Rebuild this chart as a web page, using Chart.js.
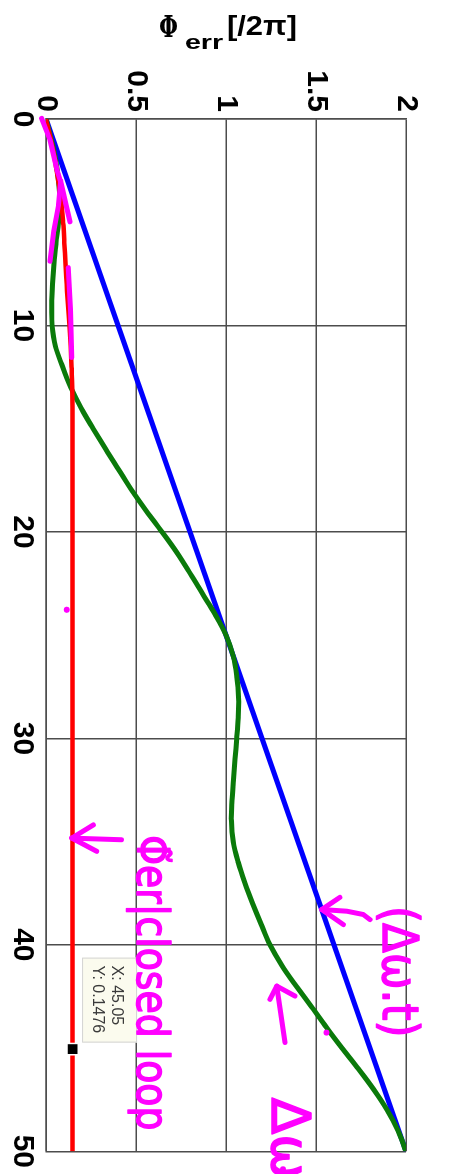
<!DOCTYPE html>
<html>
<head>
<meta charset="utf-8">
<script src="https://cdn.jsdelivr.net/npm/chart.js@4.4.1/dist/chart.umd.min.js"></script>
<style>
  html, body { margin: 0; padding: 0; background: #fff; width: 457px; height: 1174px; overflow: hidden; }
  /* the plot is laid out landscape and turned a quarter turn clockwise */
  #wrap { position: absolute; left: 0; top: 0; width: 1174px; height: 457px;
          transform-origin: 0 0; transform: translate(457px, 0) rotate(90deg); }
  canvas { display: block; }
</style>
</head>
<body>
<div id="wrap"><canvas id="c" width="1174" height="457"></canvas></div>
<script>
// ---- axis ticks ----
const xTickValues = [0, 10, 20, 30, 40, 50];
const xTickLabels = ['0', '10', '20', '30', '40', '50'];
const yTickValues = [0, 0.5, 1, 1.5, 2];
const yTickLabels = ['0', '0.5', '1', '1.5', '2'];

// ---- open-loop phase ramp (Δω·t) ----
const rampT = [0, 50];
const rampPhi = [0, 2];

// ---- Δω response ----
const respT = [0,1,2,3,4,5,6,7,8,9,10,11,12,13,14,15,16,17,18,19,20,21,22,23,24,25,
               26,27,28,29,30,31,32,33,34,35,36,37,38,39,40,41,42,43,44,45,46,47,48,49,50];
const respPhi = [0, 0.03, 0.055, 0.07, 0.076, 0.07, 0.056, 0.044, 0.036, 0.032, 0.034,
                 0.052, 0.092, 0.138, 0.195, 0.262, 0.332, 0.405, 0.478, 0.558, 0.645,
                 0.727, 0.8, 0.87, 0.94, 1.0, 1.04, 1.06, 1.07, 1.068, 1.06, 1.05, 1.042,
                 1.034, 1.03, 1.04, 1.068, 1.105, 1.148, 1.195, 1.245, 1.31, 1.39, 1.475,
                 1.558, 1.645, 1.735, 1.82, 1.895, 1.955, 2.0];

// ---- closed-loop phase error ----
const loopT = [0, 1, 2, 3, 4, 5, 6, 7, 8, 9, 10, 11, 12, 13, 14, 50];
const loopPhi = [0, 0.027, 0.05, 0.068, 0.085, 0.095, 0.102, 0.108, 0.115, 0.122, 0.13,
                 0.137, 0.142, 0.146, 0.1476, 0.1476];

// ---- data tip ----
const tipT = [45.05];
const tipPhi = [0.1476];

// ---- pen marks (t, Φ) ----
const penStem = [[-0.03, -0.024], [1.01, 0.022], [2.46, 0.061], [3.19, 0.087], [4.15, 0.111], [4.98, 0.133]];
const penFork = [[3.0, 0.082], [4.15, 0.07], [5.44, 0.043], [6.89, 0.022]];
const penTrace = [[7.2, 0.124], [9.23, 0.136], [11.55, 0.143]];
const penDots = [[23.77, 0.115], [44.25, 1.559], [50.87, 1.317]];
const arrowLoopShaft = [[34.83, 0.143], [34.91, 0.42]];
const arrowLoopHead = [[34.19, 0.263], [34.83, 0.143], [35.47, 0.282]];
const arrowRampShaft = [[38.29, 1.532], [38.37, 1.671], [38.53, 1.763], [38.78, 1.8]];
const arrowRampHead = [[37.7, 1.633], [38.29, 1.532], [39.02, 1.652]];
const arrowRespShaft = [[42.0, 1.282], [44.73, 1.328]];
const arrowRespHead = [[42.64, 1.244], [42.0, 1.282], [42.48, 1.383]];
const penNotes = [
  { text: '(Δω.t)', t0: 38.12, t1: 44.49, phi: 1.87, size: 50 },
  { text: 'Φ̃er|closed loop', t0: 34.69, t1: 48.99, phi: 0.506, size: 44 },
  { text: 'Δω', t0: 47.39, t1: null, phi: 1.256, size: 54 }
];

const pts = (ts, vs) => ts.map((t, i) => ({ x: t, y: vs[i] }));

function fitText(ctx, text, x, y, w, outline) {
  const m = ctx.measureText(text).width;
  ctx.save();
  ctx.translate(x, y);
  if (w) ctx.scale(w / m, 1);
  ctx.fillText(text, 0, 0);
  if (outline) ctx.strokeText(text, 0, 0);
  ctx.restore();
}

const penPlugin = {
  id: 'pen',
  afterDatasetsDraw(chart) {
    const ctx = chart.ctx, xs = chart.scales.x, ys = chart.scales.y;
    const P = ([t, v]) => [xs.getPixelForValue(t), ys.getPixelForValue(v)];

    // data tip box next to the marker
    const [mx, my] = P([tipT[0], tipPhi[0]]);
    const bx = mx - 91.5, by = my - 64.5, bw = 85, bh = 55;
    ctx.save();
    ctx.fillStyle = '#fbfbee';
    ctx.strokeStyle = '#d4d4d4';
    ctx.lineWidth = 1;
    ctx.fillRect(bx, by, bw, bh);
    ctx.strokeRect(bx + 0.5, by + 0.5, bw - 1, bh - 1);
    ctx.fillStyle = '#3a3a3a';
    ctx.font = '16px "Liberation Sans", Arial, sans-serif';
    ctx.textBaseline = 'alphabetic';
    ctx.textAlign = 'left';
    ctx.fillText('X: ' + tipT[0], bx + 8, by + 25);
    ctx.fillText('Y: ' + tipPhi[0], bx + 8, by + 44);
    ctx.restore();

    // magenta pen strokes
    ctx.save();
    ctx.strokeStyle = '#ff00ff';
    ctx.fillStyle = '#ff00ff';
    ctx.lineWidth = 5;
    ctx.lineCap = 'round';
    ctx.lineJoin = 'round';
    const poly = (arr) => {
      ctx.beginPath();
      arr.forEach((p, i) => { const [x, y] = P(p); i ? ctx.lineTo(x, y) : ctx.moveTo(x, y); });
      ctx.stroke();
    };
    [penStem, penFork, penTrace, arrowLoopShaft, arrowLoopHead,
     arrowRampShaft, arrowRampHead, arrowRespShaft, arrowRespHead].forEach(poly);
    penDots.forEach(p => { const [x, y] = P(p); ctx.beginPath(); ctx.arc(x, y, 3, 0, Math.PI * 2); ctx.fill(); });
    ctx.textAlign = 'left';
    ctx.textBaseline = 'alphabetic';
    ctx.lineWidth = 1.5;
    penNotes.forEach(n => {
      ctx.font = n.size + 'px "DejaVu Sans", sans-serif';
      const [x0, y0] = P([n.t0, n.phi]);
      const w = n.t1 === null ? null : xs.getPixelForValue(n.t1) - x0;
      fitText(ctx, n.text, x0, y0, w, true);
    });
    ctx.restore();
  },
  afterDraw(chart) {
    // axis title, written in the page's upright frame
    const ctx = chart.ctx;
    ctx.save();
    ctx.transform(0, -1, 1, 0, 0, 457);
    ctx.fillStyle = '#000';
    ctx.textAlign = 'left';
    ctx.textBaseline = 'alphabetic';
    ctx.font = 'bold 30px "DejaVu Serif", serif';
    fitText(ctx, 'Φ', 159, 37, 19);
    ctx.font = 'bold 21px "Liberation Sans", Arial, sans-serif';
    fitText(ctx, 'err', 185, 49, 38);
    ctx.font = 'bold 28px "Liberation Sans", Arial, sans-serif';
    fitText(ctx, '[/2π]', 227, 35, 70);
    ctx.restore();
  }
};

const tickFont = { family: '"Liberation Sans", Arial, sans-serif', size: 30, weight: 'bold' };
const gridStyle = { color: '#4d4d4d', lineWidth: 1.5, drawTicks: false };

new Chart(document.getElementById('c'), {
  type: 'line',
  data: {
    datasets: [
      { label: 'Δω·t', data: pts(rampT, rampPhi), borderColor: '#0000ff', borderWidth: 5,
        pointRadius: 0, order: 4 },
      { label: 'Δω', data: pts(respT, respPhi), borderColor: '#0a7a0a', borderWidth: 5,
        pointRadius: 0, tension: 0.35, order: 3 },
      { label: 'Φerr closed loop', data: pts(loopT, loopPhi), borderColor: '#ff0000', borderWidth: 4.5,
        pointRadius: 0, cubicInterpolationMode: 'monotone', order: 2 },
      { type: 'scatter', label: 'tip', data: pts(tipT, tipPhi), pointStyle: 'rect', pointRadius: 8,
        backgroundColor: '#000', borderColor: '#fff', borderWidth: 1.5, order: 1 }
    ]
  },
  options: {
    responsive: false,
    animation: false,
    devicePixelRatio: 1,
    layout: { padding: { top: 51, right: 20, left: 0, bottom: 0 } },
    plugins: { legend: { display: false }, tooltip: { enabled: false } },
    scales: {
      x: {
        type: 'linear', min: 0, max: 50,
        afterBuildTicks: s => { s.ticks = xTickValues.map(v => ({ value: v })); },
        afterFit: s => { s.height = 46; },
        ticks: { font: tickFont, color: '#000', padding: 6, maxRotation: 0,
                 callback: v => xTickLabels[xTickValues.indexOf(v)] },
        grid: gridStyle,
        border: { color: '#4d4d4d', width: 1.5 }
      },
      y: {
        type: 'linear', min: 0, max: 2,
        afterBuildTicks: s => { s.ticks = yTickValues.map(v => ({ value: v })); },
        afterFit: s => { s.width = 119; },
        ticks: { font: tickFont, color: '#000', padding: 7,
                 callback: v => yTickLabels[yTickValues.indexOf(v)] },
        grid: gridStyle,
        border: { color: '#4d4d4d', width: 1.5 }
      }
    }
  },
  plugins: [penPlugin]
});
</script>
</body>
</html>
